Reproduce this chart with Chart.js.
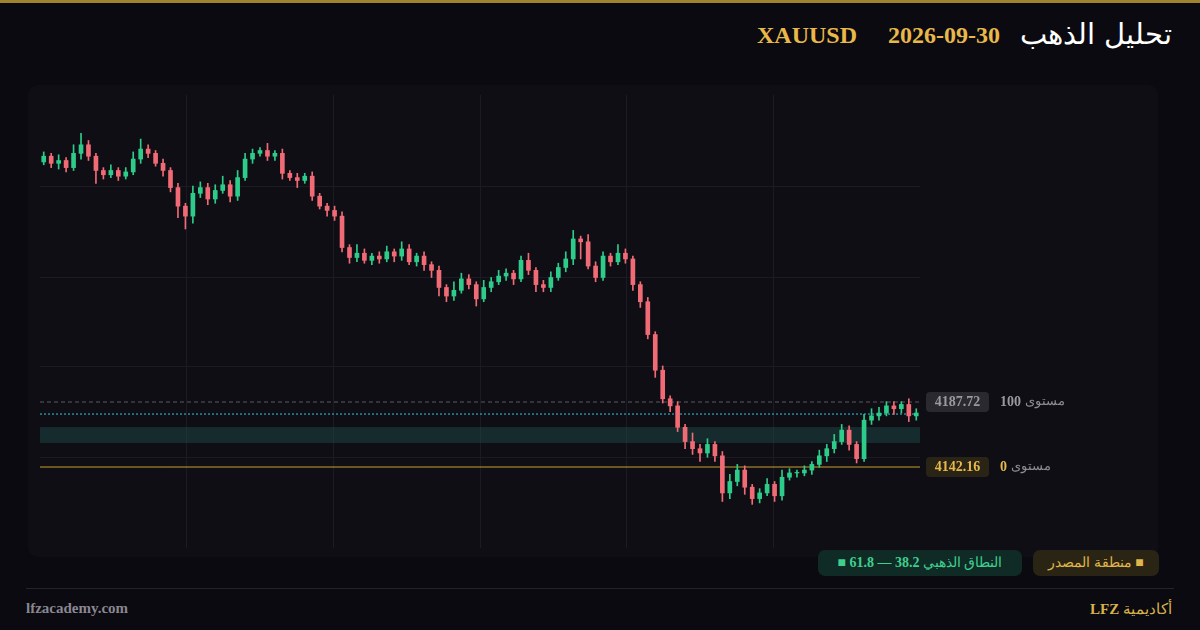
<!DOCTYPE html>
<html><head><meta charset="utf-8">
<script src="https://cdn.jsdelivr.net/npm/chart.js@4/dist/chart.umd.min.js"></script>
<style>
body{margin:0;width:1200px;height:630px;background:#0b0a10;overflow:hidden;position:relative;font-family:"Liberation Serif",serif}
#topline{position:absolute;left:0;top:0;width:1200px;height:3px;background:#a0832e}
#panel{position:absolute;left:28px;top:85px;width:1130px;height:472px;background:#0f0e15;border-radius:10px}
#c{position:absolute;left:0;top:0}
.t{position:absolute;white-space:nowrap}
.pill{position:absolute;top:550px;height:26px;border-radius:7px;font-size:14px;line-height:26px;text-align:center}
</style></head><body>
<div id="topline"></div>
<div id="panel"></div>
<div class="t" style="right:28px;top:17px;font-size:29px;color:#fff;font-family:'DejaVu Serif',serif">تحليل الذهب</div>
<div class="t" style="right:200px;top:22px;font-size:24px;font-weight:bold;color:#e8b84a">2026-09-30</div>
<div class="t" style="right:343px;top:22px;font-size:24px;font-weight:bold;color:#e8b84a">XAUUSD</div>
<div class="pill" style="left:818px;width:204px;background:#102a26;color:#3ecf8e" dir="rtl">النطاق الذهبي <b>38.2 — 61.8</b> <span style="color:#3ecf8e">■</span></div>
<div class="pill" style="left:1033px;width:126px;background:#2a2414;color:#e0b54a" dir="rtl"><span>■</span> منطقة المصدر</div>
<div style="position:absolute;left:26px;top:588px;width:1148px;height:1px;background:#24222c"></div>
<div class="t" style="left:26px;top:600px;font-size:15px;font-weight:bold;color:#8a8790">lfzacademy.com</div>
<div class="t" style="right:28px;top:600px;font-size:15px;color:#d7b24a" dir="rtl">أكاديمية <b>LFZ</b></div>
<canvas id="c" width="1200" height="630"></canvas>
<script>
const closes = [4360,4355,4357,4352,4362,4368,4360,4350,4347,4350,4346,4349,4358,4365,4362,4355,4350,
  4338,4325,4318,4334,4338,4330,4336,4340,4332,4345,
  4358,4362,4364,4360,4362,4348,4345,4343,4346,
  4332,4325,4322,4318,4296,
  4289,4292,4287,4290,4288,4293,4290,4295,4286,4290,4284,
  4280,4268,4262,4266,4274,4270,4260,4268,4272,
  4276,4278,4274,4287,4280,4270,4268,
  4275,4282,4288,4302,4300,4283,4275,
  4290,4286,4292,4288,4270,
  4258,4235,4210,4190,4185,4170,
  4160,4155,4152,4158,4150,
  4124,4132,4140,4128,4120,
  4124,4130,4122,4135,4138,
  4138,4140,4144,4150,4155,4160,4168,
  4158,4148,4175,4178,
  4180,4185,4183,4186,4178,4180];
const firstOpen = 4356;
const upWick = [3,2,4,2,6,8,3,2,2,4,2,3,5,7,3,2,3, 2,3,2,5,4,3,4,6,3,5, 4,3,2,5,2,3,2,3,2, 3,2,2,3,3,
  2,6,3,2,3,4,2,5,3,2,3, 2,3,2,6,4,3,2,5,3, 4,3,2,3,5,2,3, 4,3,5,6,2,5,3, 3,2,6,3,2, 2,3,2,3,2,3,
  2,6,3,4,2, 3,5,4,3,2, 3,4,2,5,3, 2,3,2,4,3,5,4, 3,2,4,5, 4,3,3,2,4,3];
const downWick = [2,3,4,3,2,4,3,9,3,2,3,2,2,3,3,2,4, 3,8,9,5,3,4,3,2,4,3, 2,3,2,3,3,4,2,5,2, 3,2,4,3,3,
  4,3,2,3,3,2,4,3,2,3,4, 5,6,4,3,2,3,5,2,3, 2,3,4,2,3,5,3, 3,2,3,4,12,2,3, 2,3,2,3,4, 4,3,5,3,4,3,
  5,4,6,3,4, 6,4,3,5,4, 3,2,4,3,2, 3,2,3,2,4,3,2, 4,3,2,3, 3,2,4,3,4,3];
const level100 = 4187.72, level0 = 4142.16;
const cyanLevel = 4179.3;
const goldenZone = [4159.0, 4170.2];
const yTicks = [4339.1, 4275.3, 4212.3, 4148.5];
const xTicks = [19.2, 38.8, 58.5, 78.2, 97.8];

const opens = closes.map((c, i) => i === 0 ? firstOpen : closes[i - 1]);
const bodies = closes.map((c, i) => ({x: i, y: [Math.min(opens[i], c), Math.max(opens[i], c) + (opens[i] === c ? 0.4 : 0)]}));
const wicks = closes.map((c, i) => ({x: i, y: [Math.min(opens[i], c) - downWick[i], Math.max(opens[i], c) + upWick[i]]}));
const col = closes.map((c, i) => c >= opens[i] ? '#2ecc8a' : '#f06b75');

const overlay = {
  id: 'overlay',
  beforeDatasetsDraw(chart) {
    const {ctx, chartArea: a, scales: {y}} = chart;
    ctx.save();
    ctx.fillStyle = 'rgba(30,80,75,0.45)';
    const z1 = y.getPixelForValue(goldenZone[1]), z0 = y.getPixelForValue(goldenZone[0]);
    ctx.fillRect(a.left, z1, a.right - a.left, z0 - z1);
    ctx.lineWidth = 1;
    ctx.setLineDash([4, 3]); ctx.strokeStyle = '#5a5860';
    let p = y.getPixelForValue(level100);
    ctx.beginPath(); ctx.moveTo(a.left, p); ctx.lineTo(a.right, p); ctx.stroke();
    ctx.setLineDash([2, 2]); ctx.strokeStyle = '#38c6e0';
    p = y.getPixelForValue(cyanLevel);
    ctx.beginPath(); ctx.moveTo(a.left, p); ctx.lineTo(a.right, p); ctx.stroke();
    ctx.setLineDash([]); ctx.strokeStyle = '#c9a030';
    p = y.getPixelForValue(level0);
    ctx.beginPath(); ctx.moveTo(a.left, p); ctx.lineTo(a.right, p); ctx.stroke();
    ctx.restore();
  },
  afterDraw(chart) {
    const {ctx, chartArea: a, scales: {y}} = chart;
    ctx.save();
    ctx.textBaseline = 'middle';
    [[level100, '#2a2930', '#9b98a0', '100'], [level0, '#2a2416', '#e6b94a', '0']].forEach(([v, bg, fg, n]) => {
      const p = y.getPixelForValue(v);
      ctx.fillStyle = bg;
      ctx.beginPath(); ctx.roundRect(a.right + 6, p - 10, 63, 20, 4); ctx.fill();
      ctx.fillStyle = fg; ctx.textAlign = 'center';
      ctx.font = 'bold 14px "Liberation Serif"';
      ctx.fillText(v.toFixed(2), a.right + 37.5, p);
      ctx.textAlign = 'left';
      ctx.fillText(n, a.right + 80, p);
      const w = ctx.measureText(n).width;
      ctx.font = '13px "DejaVu Serif"';
      ctx.fillStyle = '#8e8b93';
      ctx.fillText('مستوى', a.right + 84 + w, p);
    });
    ctx.restore();
  }
};

new Chart(document.getElementById('c'), {
  type: 'bar',
  data: {datasets: [
    {data: wicks, backgroundColor: col, barThickness: 1, grouped: false, order: 2},
    {data: bodies, backgroundColor: col, barThickness: 4, grouped: false, order: 1}
  ]},
  options: {
    responsive: false, animation: false,
    layout: {padding: {left: 40, right: 280, top: 95, bottom: 82}},
    plugins: {legend: {display: false}, tooltip: {enabled: false}},
    scales: {
      x: {type: 'linear', min: -0.5, max: 117.5, offset: false,
        afterBuildTicks: s => { s.ticks = xTicks.map(v => ({value: v})); },
        ticks: {display: false}, grid: {color: '#1c1b23', drawTicks: false, offset: false}, border: {display: false}},
      y: {min: 4085.4, max: 4402.9,
        afterBuildTicks: s => { s.ticks = yTicks.map(v => ({value: v})); },
        ticks: {display: false}, grid: {color: '#1c1b23', drawTicks: false}, border: {display: false}}
    }
  },
  plugins: [overlay]
});
</script>
</body></html>
